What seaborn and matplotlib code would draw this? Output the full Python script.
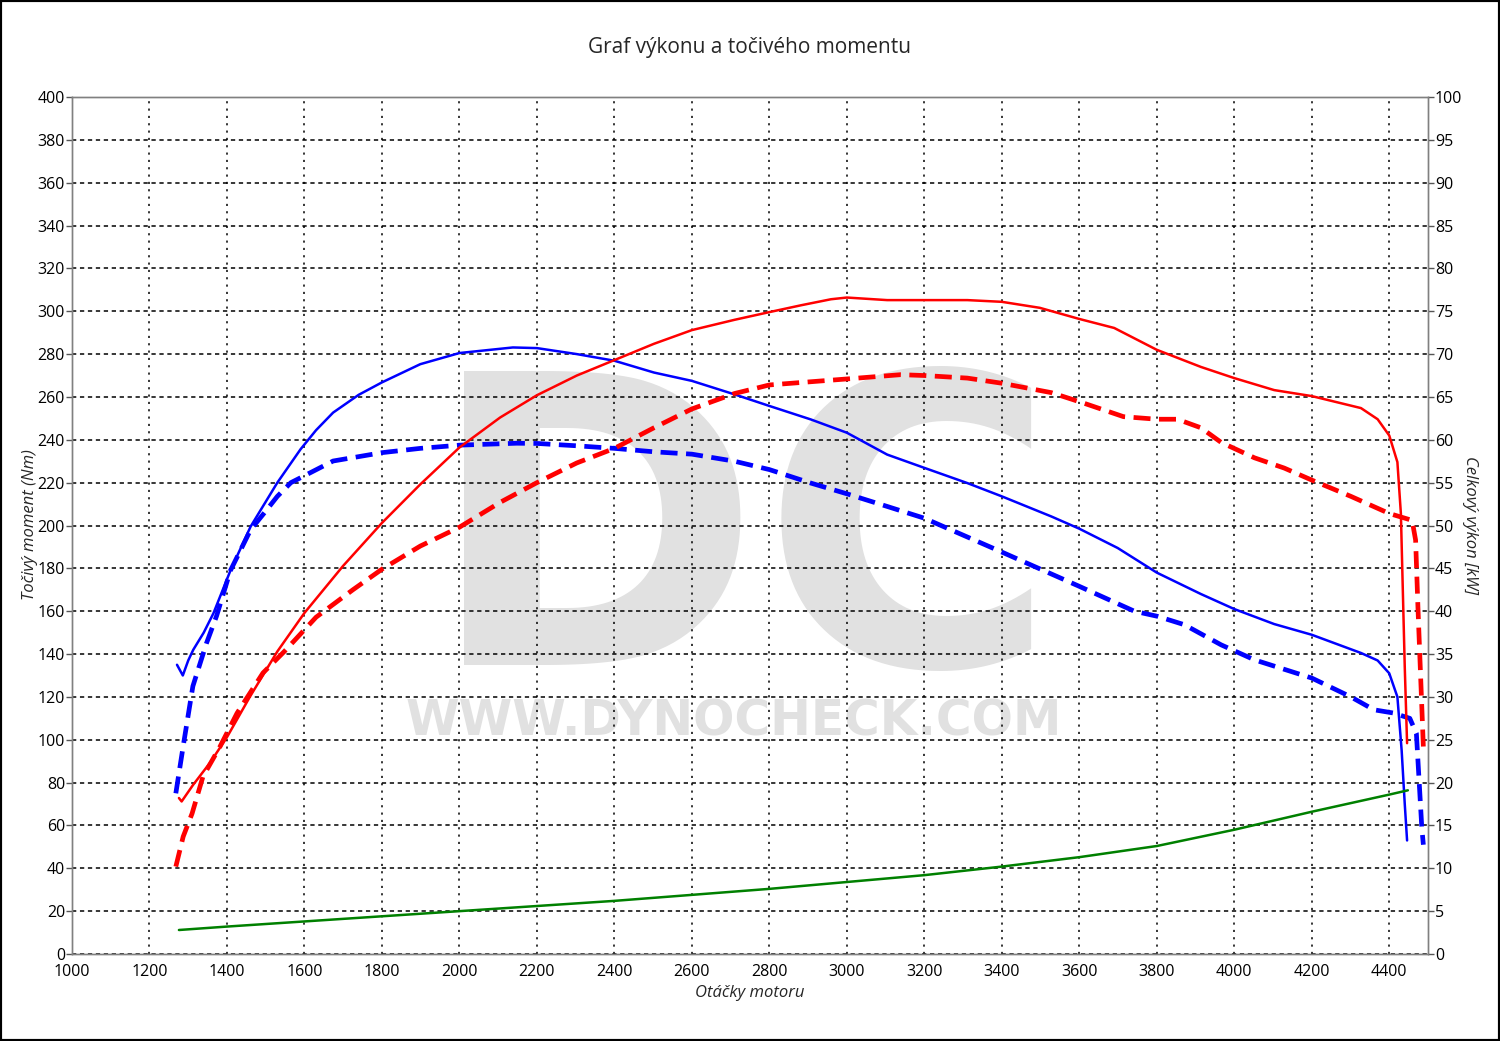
import matplotlib
matplotlib.use('Agg')
import matplotlib.pyplot as plt
from matplotlib.patches import Rectangle
import seaborn as sns
import numpy as np

# torque after tuning (Nm)
rpm_tq_tuned = [1271, 1286, 1300, 1313, 1340, 1365, 1409, 1461, 1530, 1590, 1630, 1674, 1740,
                1800, 1899, 2000, 2138, 2200, 2303, 2400, 2502, 2600, 2710, 2800, 2907, 3000,
                3104, 3200, 3311, 3400, 3528, 3600, 3699, 3800, 3914, 4000, 4103, 4200, 4327,
                4370, 4400, 4421, 4432, 4440, 4446]
tq_tuned = [135, 130, 137, 142, 150, 159, 179, 199.5, 220, 235.6, 244.5, 252.7, 261,
            266.8, 275.3, 280.5, 283.1, 282.8, 280, 276.9, 271.4, 267.5, 261.2, 255.8, 249.5, 243.3,
            233.1, 226.9, 219.8, 213.6, 204.2, 198.5, 189.5, 178, 168, 161, 154, 149, 140.5,
            137, 131, 120, 95, 70, 53]

# torque stock (Nm)
rpm_tq_stock = [1268, 1287, 1312, 1347, 1373, 1409, 1461, 1496, 1530, 1565, 1590, 1674, 1800,
                1899, 2000, 2148, 2200, 2303, 2400, 2502, 2600, 2710, 2800, 2907, 3000, 3104,
                3200, 3395, 3600, 3742, 3802, 3871, 3966, 4052, 4200, 4301, 4360, 4410, 4453,
                4470, 4484, 4488]
tq_stock = [75, 97, 125, 145, 157.7, 179, 198, 205.8, 213.6, 220, 222.3, 230.1, 234,
            236, 237.5, 238.4, 238.3, 237.2, 236, 234.4, 233.3, 230, 226.1, 219.8, 214.8, 208.9,
            203.4, 188, 171.6, 160, 157.6, 153.7, 144.3, 137.3, 128.8, 120, 114, 112.5, 110,
            103, 59, 51]

# power after tuning (kW)
rpm_pw_tuned = [1276, 1283, 1312, 1356, 1400, 1459, 1530, 1600, 1700, 1800, 1899, 2000, 2105,
                2200, 2303, 2400, 2502, 2600, 2710, 2800, 2882, 2959, 3000, 3104, 3200, 3311,
                3400, 3498, 3600, 3690, 3800, 3914, 4000, 4103, 4200, 4327, 4370, 4400, 4421,
                4430, 4440, 4446]
pw_tuned = [18.2, 17.8, 19.7, 22.3, 25.3, 30, 35.3, 39.8, 45.3, 50.3, 54.8, 59.1, 62.6,
            65.2, 67.5, 69.3, 71.2, 72.8, 74.0, 74.9, 75.7, 76.4, 76.6, 76.3, 76.3, 76.3,
            76.1, 75.4, 74.1, 73.05, 70.5, 68.5, 67.2, 65.8, 65.1, 63.7, 62.4, 60.5, 57.4,
            51.4, 33.5, 24.6]

# power stock (kW)
rpm_pw_stock = [1268, 1287, 1310, 1338, 1382, 1426, 1493, 1548, 1630, 1725, 1800, 1899, 2000,
                2105, 2200, 2303, 2400, 2502, 2600, 2710, 2800, 3000, 3139, 3200, 3311, 3400,
                3528, 3610, 3714, 3800, 3853, 3914, 3966, 4052, 4129, 4200, 4301, 4400, 4459,
                4468, 4474, 4488]
pw_stock = [10.2, 13.7, 16.4, 20.7, 24.2, 28.1, 32.8, 35.3, 39.3, 42.5, 44.9, 47.6, 49.8,
            52.7, 55, 57.3, 59, 61.4, 63.6, 65.4, 66.4, 67.1, 67.6, 67.5, 67.2, 66.6,
            65.5, 64.3, 62.7, 62.4, 62.4, 61.4, 59.7, 57.9, 56.7, 55.3, 53.4, 51.4, 50.6,
            48.3, 40.5, 24.2]

# loss power (kW)
rpm_loss = [1276, 1400, 1600, 1800, 2000, 2200, 2400, 2600, 2800, 3000, 3200, 3400, 3600,
            3800, 4000, 4200, 4400, 4448]
pw_loss = [2.8, 3.2, 3.8, 4.4, 5.0, 5.6, 6.2, 6.9, 7.6, 8.4, 9.2, 10.2, 11.3,
           12.6, 14.5, 16.6, 18.6, 19.1]

title = 'Graf výkonu a točivého momentu'
x_label = 'Otáčky motoru'
y_label_left = 'Točivý moment (Nm)'
y_label_right = 'Celkový výkon [kW]'

sns.set_style('white')
plt.rcParams['font.family'] = ['Open Sans', 'DejaVu Sans']

fig = plt.figure(figsize=(15, 10.41), dpi=100)
ax = fig.add_axes([72 / 1500, 1 - 954 / 1041, 1356 / 1500, 857 / 1041])
ax2 = ax.twinx()

# watermark
ax.text(2729, 135, 'DC', fontsize=290, fontweight='bold', family='DejaVu Sans',
        color='#e1e1e1', ha='center', va='baseline', zorder=0.5)
ax.text(2709, 102, 'WWW.DYNOCHECK.COM', fontsize=35, fontweight='bold', family='DejaVu Sans',
        color='#e1e1e1', ha='center', va='baseline', zorder=0.5)

dash = (0, (3.6, 1.8))
sns.lineplot(x=rpm_tq_tuned, y=tq_tuned, ax=ax, sort=False, estimator=None,
             color='#0000ff', linewidth=1.8)
sns.lineplot(x=rpm_tq_stock, y=tq_stock, ax=ax, sort=False, estimator=None,
             color='#0000ff', linewidth=3.4, linestyle=dash)
sns.lineplot(x=rpm_pw_tuned, y=pw_tuned, ax=ax2, sort=False, estimator=None,
             color='#ff0000', linewidth=1.8)
sns.lineplot(x=rpm_pw_stock, y=pw_stock, ax=ax2, sort=False, estimator=None,
             color='#ff0000', linewidth=3.4, linestyle=dash)
sns.lineplot(x=rpm_loss, y=pw_loss, ax=ax2, sort=False, estimator=None,
             color='#008000', linewidth=1.8)

ax.set_xlim(1000, 4500)
ax.set_ylim(0, 400)
ax2.set_ylim(0, 100)
ax.set_xticks(np.arange(1000, 4401, 200))
ax.set_yticks(np.arange(0, 401, 20))
ax2.set_yticks(np.arange(0, 101, 5))

ax.xaxis.grid(True, color='black', linestyle=(0, (1.4, 3.4)), linewidth=1.1)
ax.yaxis.grid(True, color='black', linestyle=(0, (2.8, 2.4)), linewidth=1.1)
ax2.grid(False)

for a in (ax, ax2):
    for s in a.spines.values():
        s.set_color('#808080')
        s.set_linewidth(1)
    a.tick_params(direction='out', length=4, width=1, color='#555555', pad=1,
                  labelsize=11.5, labelcolor='black')
    a.set_xlabel('')
    a.set_ylabel('')
ax.tick_params(axis='x', pad=3)

fig.text(0.5, 1 - 47 / 1041, title, fontsize=15, ha='center', va='center')
fig.text(750 / 1500, 1 - 993 / 1041, x_label, fontsize=12, style='italic',
         ha='center', va='center')
fig.text(30 / 1500, 1 - 525 / 1041, y_label_left, fontsize=12, style='italic',
         rotation=90, ha='center', va='center')
fig.text(1470 / 1500, 1 - 525 / 1041, y_label_right, fontsize=12, style='italic',
         rotation=-90, ha='center', va='center')

fig.add_artist(Rectangle((0, 0), 1, 1, transform=fig.transFigure, fill=False,
                         edgecolor='black', linewidth=3))

fig.savefig('out.png', dpi=100)
